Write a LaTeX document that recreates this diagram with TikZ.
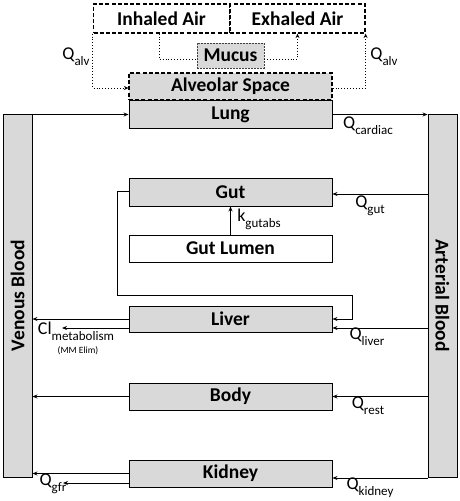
\documentclass[tikz,border=0pt]{standalone}
\usepackage{fontspec}
\setmainfont{Carlito}
\usetikzlibrary{arrows.meta}
\definecolor{boxgray}{RGB}{217,217,217}
\newcommand\lbsub[1]{\raisebox{-0.32em}{\fontsize{13}{13}\selectfont #1}}
\begin{document}
\begin{tikzpicture}[x=1pt,y=-1pt,
  comp/.style={draw=black,line width=0.9pt,fill=boxgray,minimum width=203pt,minimum height=27pt,inner sep=0pt,font=\fontsize{19.5}{19.5}\selectfont\bfseries},
  wcomp/.style={comp,fill=white},
  blood/.style={draw=black,line width=0.9pt,fill=boxgray,minimum width=29pt,minimum height=363pt,inner sep=0pt,font=\fontsize{19.5}{19.5}\selectfont\bfseries},
  air/.style={draw=black,line width=1.2pt,dash pattern=on 4pt off 2.2pt,fill=white,minimum width=136pt,minimum height=29pt,inner sep=0pt,font=\fontsize{19.5}{19.5}\selectfont\bfseries},
  arr/.style={line width=0.8pt,-{Stealth[length=5pt,width=4pt]}},
  dotarr/.style={line width=0.9pt,dotted,-{Stealth[length=4.5pt,width=4pt]}},
  lbl/.style={inner sep=0pt,font=\fontsize{18}{18}\selectfont}
]
\useasboundingbox (0,0) rectangle (460,501);
% air boxes
\node[air] (inh) at (161.5,18.5) {Inhaled Air};
\node[air,minimum width=135pt] (exh) at (297.5,18.5) {Exhaled Air};
\node[comp,draw=black!75,line width=0.8pt,dash pattern=on 2pt off 1pt,minimum width=67pt,minimum height=25pt] (mucus) at (230.5,55.5) {Mucus};
\node[comp,line width=1.2pt,dash pattern=on 4pt off 2.2pt] (alv) at (230.5,86.5) {Alveolar Space};
\node[comp,minimum height=28pt] (lung) at (230.5,114.5) {Lung};
\node[comp,minimum height=28pt] (gut) at (230.5,192) {Gut};
\node[wcomp] (lumen) at (230.5,248.5) {Gut Lumen};
\node[comp,minimum height=26pt] (liver) at (230.5,319) {Liver};
\node[comp] (body) at (230.5,396.5) {Body};
\node[comp] (kidney) at (230.5,473.5) {Kidney};
\node[blood] (venous) at (17.5,295.5) {\rotatebox{90}{Venous Blood}};
\node[blood] (arterial) at (442.5,295.5) {\rotatebox{-90}{Arterial Blood}};
% air connectors
\draw[dotarr] (inh.south west) |- ([yshift=-1.5pt]alv.west);
\draw[dotarr] ([yshift=-1.5pt]alv.east) -| (exh.south east);
\draw[line width=0.9pt,dotted] ([xshift=-2.5pt]inh.south) |- ([yshift=-3.5pt]mucus.west);
\draw[dotarr] ([yshift=-3.5pt]mucus.east) -| (exh.south);
% blood connectors
\draw[arr] (venous.east |- lung.west) -- (lung.west);
\draw[arr] (lung.east) -- (arterial.west |- lung.east);
\draw[arr] ([yshift=-2pt]arterial.west |- gut.east) -- ([yshift=-2pt]gut.east);
\draw[arr] (lumen.north) -- (gut.south);
\coordinate (gl1) at (117,295);
\coordinate (gl2) at (352,295);
\draw[arr] ([yshift=1pt]gut.west) -| (gl1) -- (gl2) |- (liver.east);
\draw[arr] ([yshift=-9pt]arterial.west |- liver.east) -- ([yshift=-9pt]liver.east);
\draw[arr] (liver.west) -- (venous.east |- liver.west);
\coordinate (clend) at (62,328);
\draw[arr] ([yshift=-9pt]liver.west) -- (clend);
\draw[arr] (arterial.west |- body.east) -- (body.east);
\draw[arr] (body.west) -- (venous.east |- body.west);
\draw[arr] ([yshift=-4.5pt]arterial.west |- kidney.east) -- ([yshift=-4.5pt]kidney.east);
\draw[arr] (kidney.west) -- (venous.east |- kidney.west);
\coordinate (gfrend) at (63,483);
\draw[arr] ([yshift=-9.5pt]kidney.west) -- (gfrend);
% labels
\node[lbl] (qalvl) at (76,57) {Q\lbsub{alv}};
\node[lbl] (qalvr) at (384,57) {Q\lbsub{alv}};
\node[lbl] (qcard) at (368,126) {Q\lbsub{cardiac}};
\node[lbl] (qgut) at (370,206) {Q\lbsub{gut}};
\node[lbl] (kgut) at (259,219) {k\lbsub{gutabs}};
\node[lbl] (qliver) at (367,337) {Q\lbsub{liver}};
\node[lbl] (clmet) at (76,331) {Cl\lbsub{metabolism}};
\node[inner sep=0pt,font=\fontsize{9.5}{9.5}\selectfont] (mm) at (78,350.5) {(MM Elim)};
\node[lbl] (qrest) at (368,406) {Q\lbsub{rest}};
\node[lbl] (qgfr) at (53,484) {Q\lbsub{gfr}};
\node[lbl] (qkid) at (370,488) {Q\lbsub{kidney}};
\end{tikzpicture}
\end{document}
